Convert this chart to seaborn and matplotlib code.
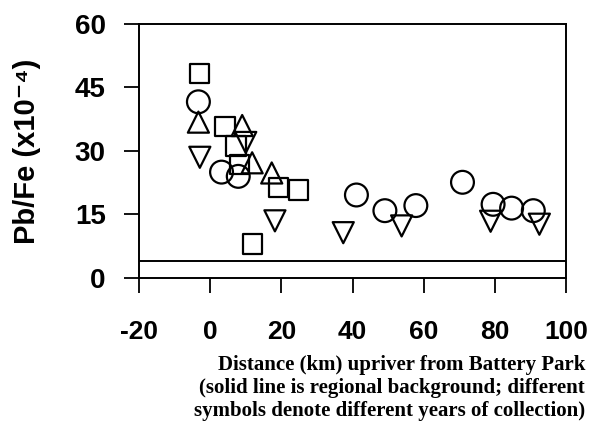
import pandas as pd
import matplotlib.pyplot as plt
import seaborn as sns

# Values, one list per collection year (symbol)
sq_km = [-3.0, 4.2, 7.2, 8.2, 19.2, 24.8, 11.9]
sq_pbfe = [48.3, 35.8, 31.2, 26.8, 21.4, 20.8, 8.0]

circ_km = [-3.3, 3.2, 7.9, 41.1, 49.1, 57.8, 70.9, 79.5, 84.7, 90.8]
circ_pbfe = [41.6, 25.0, 24.0, 19.6, 15.9, 17.1, 22.6, 17.4, 16.5, 15.9]

up_km = [-3.3, 9.0, 11.8, 17.3]
up_pbfe = [36.8, 36.0, 27.2, 24.8]

down_km = [-2.9, 10.0, 18.2, 37.4, 53.8, 78.8, 92.5]
down_pbfe = [28.5, 32.0, 13.5, 10.7, 12.3, 13.4, 12.7]

background = 4.0

xticks = [-20, 0, 20, 40, 60, 80, 100]
yticks = [0, 15, 30, 45, 60]

df = pd.concat([
    pd.DataFrame({'km': sq_km, 'pbfe': sq_pbfe, 'year': 'year 1'}),
    pd.DataFrame({'km': circ_km, 'pbfe': circ_pbfe, 'year': 'year 2'}),
    pd.DataFrame({'km': up_km, 'pbfe': up_pbfe, 'year': 'year 3'}),
    pd.DataFrame({'km': down_km, 'pbfe': down_pbfe, 'year': 'year 4'}),
])

sns.set_style('ticks')
plt.rcParams['font.family'] = ['Liberation Sans', 'DejaVu Sans']
plt.rcParams['axes.unicode_minus'] = False
# seaborn greys out the text, the original is plain black
for key in ['text.color', 'axes.labelcolor', 'xtick.color', 'ytick.color', 'axes.edgecolor']:
    plt.rcParams[key] = 'black'

fig = plt.figure(figsize=(5.99, 4.42), dpi=100)
ax = fig.add_axes([0.232, 0.371, 0.713, 0.575])

sizes = {'year 1': 200, 'year 2': 270, 'year 3': 230, 'year 4': 230}
for year, marker in zip(['year 1', 'year 2', 'year 3', 'year 4'], ['s', 'o', '^', 'v']):
    sub = df[df['year'] == year]
    sns.scatterplot(data=sub, x='km', y='pbfe', marker=marker, s=sizes[year],
                    facecolor='none', edgecolor='black', linewidth=1.6,
                    legend=False, ax=ax, zorder=3)

# regional background
ax.axhline(background, color='black', lw=1.4)

ax.set_xlim(-20, 100)
ax.set_ylim(0, 60)
ax.set_xticks(xticks)
ax.set_yticks(yticks)
ax.tick_params(direction='out', length=11, width=1.3, labelsize=20, color='black')
ax.tick_params(axis='y', pad=13)
ax.tick_params(axis='x', pad=19, labelsize=19)
for lab in ax.get_xticklabels() + ax.get_yticklabels():
    lab.set_fontweight('bold')
for s in ax.spines.values():
    s.set_visible(True)
    s.set_linewidth(1.4)
    s.set_color('black')

ax.set_xlabel('')
ax.set_ylabel('Pb/Fe (x10⁻⁴)', fontsize=21, fontweight='bold')
ax.yaxis.label.set_va('center')
ax.yaxis.set_label_coords(-0.262, 0.5)

fig.text(0.977, 0.122,
         'Distance (km) upriver from Battery Park\n'
         '(solid line is regional background; different\n'
         'symbols denote different years of collection)',
         ha='right', va='center', multialignment='right',
         family=['Liberation Serif', 'DejaVu Serif'], fontweight='bold',
         fontsize=15, linespacing=1.2)

plt.savefig('out.png', dpi=100)
